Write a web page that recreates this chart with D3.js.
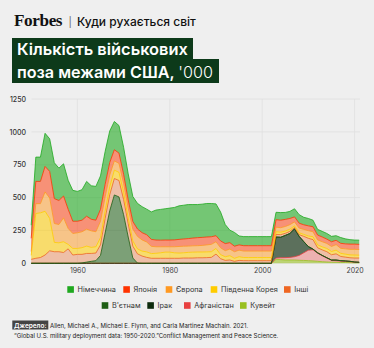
<!DOCTYPE html>
<html><head><meta charset="utf-8">
<script src="https://cdn.jsdelivr.net/npm/d3@7"></script>
<style>body{margin:0;background:#efefef;} svg{display:block}</style>
</head><body>
<svg id="c" width="374" height="348"></svg>
<script>
const years = [1950,1951,1952,1953,1954,1955,1956,1957,1958,1959,
1960,1961,1962,1963,1964,1965,1966,1967,1968,1969,
1970,1971,1972,1973,1974,1975,1976,1977,1978,1979,
1980,1981,1982,1983,1984,1985,1986,1987,1988,1989,
1990,1991,1992,1993,1994,1995,1996,1997,1998,1999,
2000,2001,2002,2003,2004,2005,2006,2007,2008,2009,
2010,2011,2012,2013,2014,2015,2016,2017,2018,2019,
2020,2021];

const germany = [100,185,185,252,248,273,246,245,220,235,
227,232,265,255,257,255,250,240,215,210,
205,198,190,195,198,195,209,228,234,238,
243,247,255,257,259,255,252,253,255,253,
242,220,145,95,105,68,69,69,69,69,
69,69,69,56,58,53,54,62,65,57,
56,50,43,43,43,41,35,44,38,34,
31,32];
const japan = [100,169,169,194,202,189,183,166,146,93,
88,88,98,88,88,90,95,95,85,78,
70,62,58,56,55,55,53,51,50,51,
51,52,54,55,57,59,61,61,60,58,
46,52,54,49,42,40,41,41,41,41,
41,41,41,57,57,54,47,38,37,35,
37,38,37,36,33,36,33,38,38,40,
40,39];
const europe = [30,75,70,147,156,144,139,182,121,114,
119,121,129,126,114,125,110,90,70,68,
68,75,90,95,85,75,55,50,46,41,
41,46,50,50,48,48,48,50,53,56,
51,52,46,50,50,50,49,49,49,49,
49,49,49,35,34,35,34,30,36,38,
40,38,38,39,38,38,42,38,40,42,
43,43];
const korea = [30,341,340,333,246,71,68,82,34,50,
45,51,56,46,48,55,55,60,64,62,
55,45,40,38,38,42,36,38,42,47,
47,42,40,40,43,45,44,44,44,43,
43,31,28,33,23,28,24,24,24,24,
24,24,24,20,19,17,17,13,14,15,
18,22,22,23,25,25,28,24,23,22,
23,22];
const others = [30,38,44,63,95,88,88,82,110,63,
68,65,66,60,58,80,110,122,125,125,
115,100,90,70,55,45,38,38,38,38,
38,38,38,40,40,40,42,42,43,45,
70,35,22,25,15,22,20,20,20,20,
20,20,20,20,20,16,16,10,13,40,
63,72,38,42,46,40,47,32,29,27,
30,32];
const vietnam = [0,0,0,0,0,0,0,0,0,0,
0,3,9,15,20,60,230,400,520,505,
370,200,40,2,0,0,0,0,0,0,
0,0,0,0,0,0,0,0,0,0,
0,0,0,0,0,0,0,0,0,0,
0,0,0,0,0,0,0,0,0,0,
0,0,0,0,0,0,0,0,0,0,
0,0];
const iraq = [0,0,0,0,0,0,0,0,0,0,
0,0,0,0,0,0,0,0,0,0,
0,0,0,0,0,0,0,0,0,0,
0,0,0,0,0,0,0,0,0,0,
0,0,0,0,0,0,0,0,0,0,
0,0,0,160,156,169,182,212,145,85,
27,5,3,3,2,3,5,4,3,3,
2,2];
const afghanistan = [0,0,0,0,0,0,0,0,0,0,
0,0,0,0,0,0,0,0,0,0,
0,0,0,0,0,0,0,0,0,0,
0,0,0,0,0,0,0,0,0,0,
0,0,0,0,0,0,0,0,0,0,
0,0,0,10,14,18,20,25,37,58,
80,85,62,45,30,14,12,10,9,7,
4,2];
const kuwait = [0,0,0,0,0,0,0,0,0,0,
0,0,0,0,0,0,0,0,0,0,
0,0,0,0,0,0,0,0,0,0,
0,0,0,0,0,0,0,0,0,0,
0,0,0,0,0,0,0,0,0,0,
0,0,0,30,28,25,25,25,23,22,
20,18,15,12,10,8,8,6,6,5,
4,4];

const yTicks = [0,250,500,750,1000,1250];
const xTicks = [1960,1980,2000,2020];

// series (stack order bottom -> top)
const series = [
  {key:"kuwait", label:"Кувейт", values:kuwait, color:"#99c020", op:0.6},
  {key:"afghanistan", label:"Афганістан", values:afghanistan, color:"#e84040", op:0.35},
  {key:"iraq", label:"Ірак", values:iraq, color:"#0d2b0d", op:0.65},
  {key:"vietnam", label:"В'єтнам", values:vietnam, color:"#1e5e14", op:0.55},
  {key:"others", label:"Інші", values:others, color:"#ee6622", op:0.35},
  {key:"korea", label:"Південна Корея", values:korea, color:"#ffcc00", op:0.55},
  {key:"europe", label:"Європа", values:europe, color:"#ff9922", op:0.5},
  {key:"japan", label:"Японія", values:japan, color:"#ff3300", op:0.5},
  {key:"germany", label:"Німеччина", values:germany, color:"#22aa22", op:0.6}
];

const rows = years.map((yr,i)=>{const o={year:yr}; series.forEach(s=>o[s.key]=s.values[i]); return o;});
const stacked = d3.stack().keys(series.map(s=>s.key))(rows);

const svg = d3.select("#c");
svg.append("rect").attr("width",374).attr("height",348).attr("fill","#efefef");

// fit a text element's width by scaling its font size
function fit(sel, w){
  const n = sel.node(); const fs = parseFloat(sel.attr("font-size"));
  const len = n.getComputedTextLength();
  if (len > 0) sel.attr("font-size", (fs*w/len).toFixed(2));
  return sel;
}

// header
fit(svg.append("text").attr("x",14).attr("y",26).attr("font-family","Liberation Serif, serif")
  .attr("font-weight","bold").attr("font-size",16).attr("letter-spacing","-0.4").attr("fill","#111").text("Forbes"), 48);
svg.append("text").attr("x",68.5).attr("y",25.5).attr("font-family","Inter, sans-serif")
  .attr("font-size",10).attr("fill","#666").text("|");
fit(svg.append("text").attr("x",77).attr("y",26).attr("font-family","Inter, sans-serif")
  .attr("font-weight",500).attr("font-size",10.5).attr("fill","#111").text("Куди рухається світ"), 119);

// title boxes
const titleG = svg.append("g");
titleG.append("rect").attr("x",12).attr("y",38).attr("width",181).attr("height",22).attr("fill","#0d3a1a");
titleG.append("rect").attr("x",12).attr("y",59).attr("width",207).attr("height",24).attr("fill","#0d3a1a");
fit(titleG.append("text").attr("x",17).attr("y",55).attr("font-family","Inter, sans-serif").attr("font-weight",600)
  .attr("font-size",17).attr("fill","#fff").text("Кількість військових"), 171);
const t2 = titleG.append("text").attr("x",17).attr("y",77.5).attr("font-family","Inter, sans-serif").attr("font-weight",600)
  .attr("font-size",17).attr("fill","#fff");
t2.append("tspan").text("поза межами США, ");
t2.append("tspan").attr("font-weight",300).text("'000");
fit(t2, 196);

// scales
const x = d3.scaleLinear().domain([1950,2021]).range([31.2,359.2]);
const y = d3.scaleLinear().domain([0,1250]).range([263.3,99]);

// gridlines
const grid = svg.append("g");
grid.selectAll(".hg").data(yTicks).join("line").attr("x1",31.5).attr("x2",360)
  .attr("y1",d=>y(d)).attr("y2",d=>y(d)).attr("stroke","#e0e0e0").attr("stroke-width",0.8);
grid.selectAll(".vg").data(xTicks).join("line").attr("y1",99).attr("y2",263.3)
  .attr("x1",d=>x(d)).attr("x2",d=>x(d)).attr("stroke","#e0e0e0").attr("stroke-width",0.8);

// areas
const area = d3.area().x(d=>x(d.data.year)).y0(d=>y(d[0])).y1(d=>y(d[1]));
const line = d3.line().x(d=>x(d.data.year)).y(d=>y(d[1]));
const colorOf = k => series.find(s=>s.key===k);
svg.append("g").selectAll("path").data(stacked).join("path")
  .attr("d",area).attr("fill",d=>colorOf(d.key).color).attr("fill-opacity",d=>colorOf(d.key).op);
svg.append("g").selectAll("path").data(stacked).join("path")
  .attr("d",line).attr("fill","none").attr("stroke",d=>colorOf(d.key).color).attr("stroke-width",0.9).attr("stroke-opacity",0.9);

// axes
const yAxis = svg.append("g").attr("transform","translate(26,0)")
  .call(d3.axisLeft(y).tickValues(yTicks).tickSize(0).tickPadding(0).tickFormat(d3.format("d")));
yAxis.select(".domain").remove();
yAxis.selectAll("text").attr("font-family","Inter, sans-serif").attr("font-size",7).attr("fill","#333").attr("font-weight",500);
const xAxis = svg.append("g").attr("transform","translate(0,266)")
  .call(d3.axisBottom(x).tickValues(xTicks).tickSize(0).tickPadding(2).tickFormat(d3.format("d")));
xAxis.select(".domain").remove();
xAxis.selectAll("text").attr("font-family","Inter, sans-serif").attr("font-size",7).attr("fill","#444");

// legend
const legendRows = [
  [["germany",67.3],["japan",123.3],["europe",165.7],["korea",210.7],["others",284]],
  [["vietnam",101.7],["iraq",147.3],["afghanistan",184],["kuwait",240]]
];
const legColors = {germany:"#1fa81f",japan:"#ff3300",europe:"#ff9922",korea:"#ffcc00",others:"#ee6622",
  vietnam:"#1e5e14",iraq:"#0d2b0d",afghanistan:"#e84040",kuwait:"#99c020"};
const lg = svg.append("g");
legendRows.forEach((row,ri)=>{
  const cy = ri===0?289.5:305.5;
  row.forEach(([k,lx])=>{
    lg.append("rect").attr("x",lx).attr("y",cy-3.3).attr("width",6.6).attr("height",6.6).attr("fill",legColors[k]);
    lg.append("text").attr("x",lx+10.3).attr("y",cy+2.6).attr("font-family","Inter, sans-serif")
      .attr("font-size",7.3).attr("fill","#333").text(colorOf(k).label);
  });
});

// source
svg.append("rect").attr("x",12.3).attr("y",320.5).attr("width",36).attr("height",9).attr("fill","#444");
fit(svg.append("text").attr("x",14).attr("y",327.6).attr("font-family","Inter, sans-serif").attr("font-weight",600)
  .attr("font-size",7).attr("fill","#fff").text("Джерело:"), 32.5);
fit(svg.append("text").attr("x",50).attr("y",327.6).attr("font-family","Inter, sans-serif")
  .attr("font-size",6.6).attr("fill","#222").text("Allen, Michael A., Michael E. Flynn, and Carla Martinez Machain. 2021."), 198);
fit(svg.append("text").attr("x",14).attr("y",338.2).attr("font-family","Inter, sans-serif")
  .attr("font-size",6.6).attr("fill","#222").text("“Global U.S. military deployment data: 1950-2020.”Conflict Management and Peace Science."), 264);
</script>
</body></html>
